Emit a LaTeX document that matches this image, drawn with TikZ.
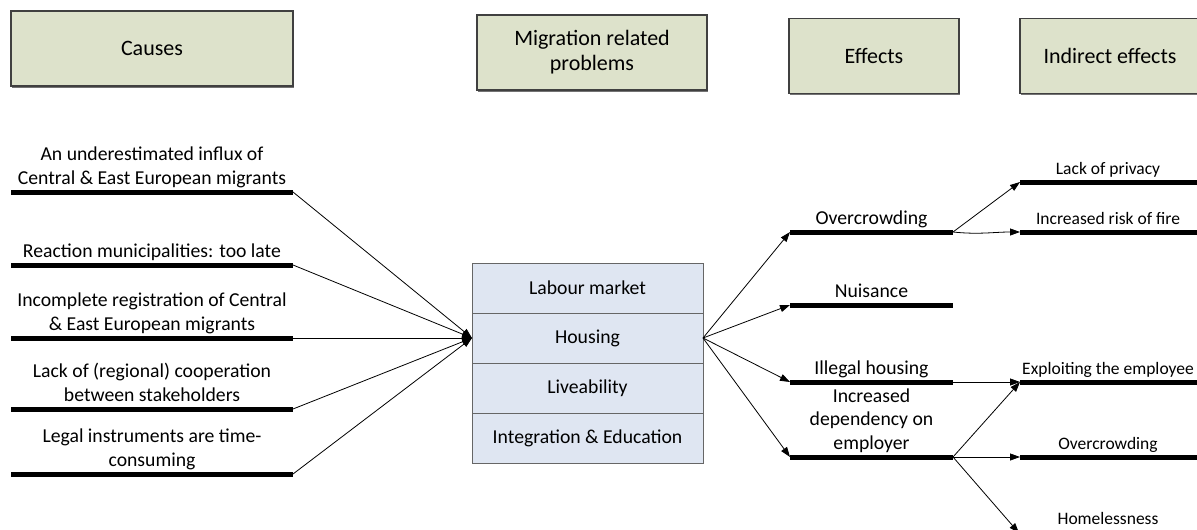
\documentclass[tikz,border=0pt]{standalone}
\usepackage{fontspec}
\setmainfont{Carlito}
\usetikzlibrary{positioning,arrows.meta,shadows}

\definecolor{headfill}{RGB}{221,226,203}
\definecolor{probfill}{RGB}{223,230,242}

\tikzset{
  head/.style={draw=black!75, line width=1.2pt, fill=headfill, minimum height=75pt,
               align=center, font=\fontsize{22}{25}\selectfont,
               drop shadow={shadow xshift=1pt, shadow yshift=-1.5pt, fill=black!55, opacity=1}},
  prob/.style={draw=black!60, line width=1pt, fill=probfill, outer sep=0pt,
               minimum width=231pt, minimum height=50pt, font=\fontsize{19.7}{23.5}\selectfont},
  lbl/.style={anchor=south, align=center, inner sep=0pt, font=\fontsize{19.7}{23.5}\selectfont,
              execute at end node={\rule[-4pt]{0pt}{4pt}}},
  small/.style={lbl, font=\fontsize{17.5}{21}\selectfont},
  bar/.style={line width=5pt},
  link/.style={line width=0.8pt, -{Triangle[length=10pt,width=7pt]}},
}

\begin{document}
\begin{tikzpicture}[x=1pt,y=-1pt]
\useasboundingbox (0,0) rectangle (1197,530);

% column headers
\node[head, minimum width=282pt] (hcause) at (152,48.5) {Causes};
\node[head, minimum width=230pt] (hprob) at (592,52.5) {Migration related\\problems};
\node[head, minimum width=170pt] (heff) at (874,56) {Effects};
\node[head, minimum width=180pt] (hind) at (1110,56) {Indirect effects};

% problems
\node[prob] (lm) at (587.5,288) {Labour market};
\node[prob, below=0pt of lm] (hs) {Housing};
\node[prob, below=0pt of hs] (lv) {Liveability};
\node[prob, below=0pt of lv] (ie) {Integration \& Education};

% causes
\coordinate (c1a) at (11,192); \coordinate (c1b) at (293,192);
\coordinate (c2a) at (11,265); \coordinate (c2b) at (293,265);
\coordinate (c3a) at (11,338); \coordinate (c3b) at (293,338);
\coordinate (c4a) at (11,409); \coordinate (c4b) at (293,409);
\coordinate (c5a) at (11,474); \coordinate (c5b) at (293,474);
\draw[bar] (c1a) -- (c1b);
\draw[bar] (c2a) -- (c2b);
\draw[bar] (c3a) -- (c3b);
\draw[bar] (c4a) -- (c4b);
\draw[bar] (c5a) -- (c5b);
\node[lbl] (c1) at (152,188.5) {An underestimated influx of\\Central \& East European migrants};
\node[lbl] (c2) at (152,261.5) {Reaction municipalities: too late};
\node[lbl] (c3) at (152,334.5) {Incomplete registration of Central\\\& East European migrants};
\node[lbl] (c4) at (152,405.5) {Lack of (regional) cooperation\\between stakeholders};
\node[lbl] (c5) at (152,470.5) {Legal instruments are time-\\consuming};

% effects
\coordinate (e1a) at (790,232); \coordinate (e1b) at (953,232);
\coordinate (e2a) at (790,305); \coordinate (e2b) at (953,305);
\coordinate (e3a) at (790,382); \coordinate (e3b) at (953,382);
\coordinate (e4a) at (790,457); \coordinate (e4b) at (953,457);
\draw[bar] (e1a) -- (e1b);
\draw[bar] (e2a) -- (e2b);
\draw[bar] (e3a) -- (e3b);
\draw[bar] (e4a) -- (e4b);
\node[lbl] (e1) at (871.5,228.5) {Overcrowding};
\node[lbl] (e2) at (871.5,301.5) {Nuisance};
\node[lbl] (e3) at (871.5,378.5) {Illegal housing};
\node[lbl] (e4) at (871.5,453.5) {Increased\\dependency on\\employer};

% indirect effects
\coordinate (i1a) at (1020,182); \coordinate (i1b) at (1200,182);
\coordinate (i2a) at (1020,232); \coordinate (i2b) at (1200,232);
\coordinate (i3a) at (1020,382); \coordinate (i3b) at (1200,382);
\coordinate (i4a) at (1020,457); \coordinate (i4b) at (1200,457);
\coordinate (i5a) at (1019,533);
\draw[bar] (i1a) -- (i1b);
\draw[bar] (i2a) -- (i2b);
\draw[bar] (i3a) -- (i3b);
\draw[bar] (i4a) -- (i4b);
\node[small] (i1) at (1108,179) {Lack of privacy};
\node[small] (i2) at (1108,229) {Increased risk of fire};
\node[small] (i3) at (1108,379) {Exploiting the employee};
\node[small] (i4) at (1108,454) {Overcrowding};
\node[small] (i5) at (1108,529) {Homelessness};

% causes -> housing
\draw[link] (c1b) -- (hs.west);
\draw[link] (c2b) -- (hs.west);
\draw[link] (c3b) -- (hs.west);
\draw[link] (c4b) -- (hs.west);
\draw[link] (c5b) -- (hs.west);

% housing -> effects
\draw[link] (hs.east) -- (e1a);
\draw[link] (hs.east) -- (e2a);
\draw[link] (hs.east) -- (e3a);
\draw[link] (hs.east) -- (e4a);

% effects -> indirect effects
\draw[link] (e1b) -- (i1a);
\draw[link] (e1b) to[out=-6,in=180] (i2a);
\draw[link] (e3b) -- (i3a);
\draw[link] (e4b) -- (i3a);
\draw[link] (e4b) -- (i4a);
\draw[link] (e4b) -- (i5a);
\end{tikzpicture}
\end{document}
